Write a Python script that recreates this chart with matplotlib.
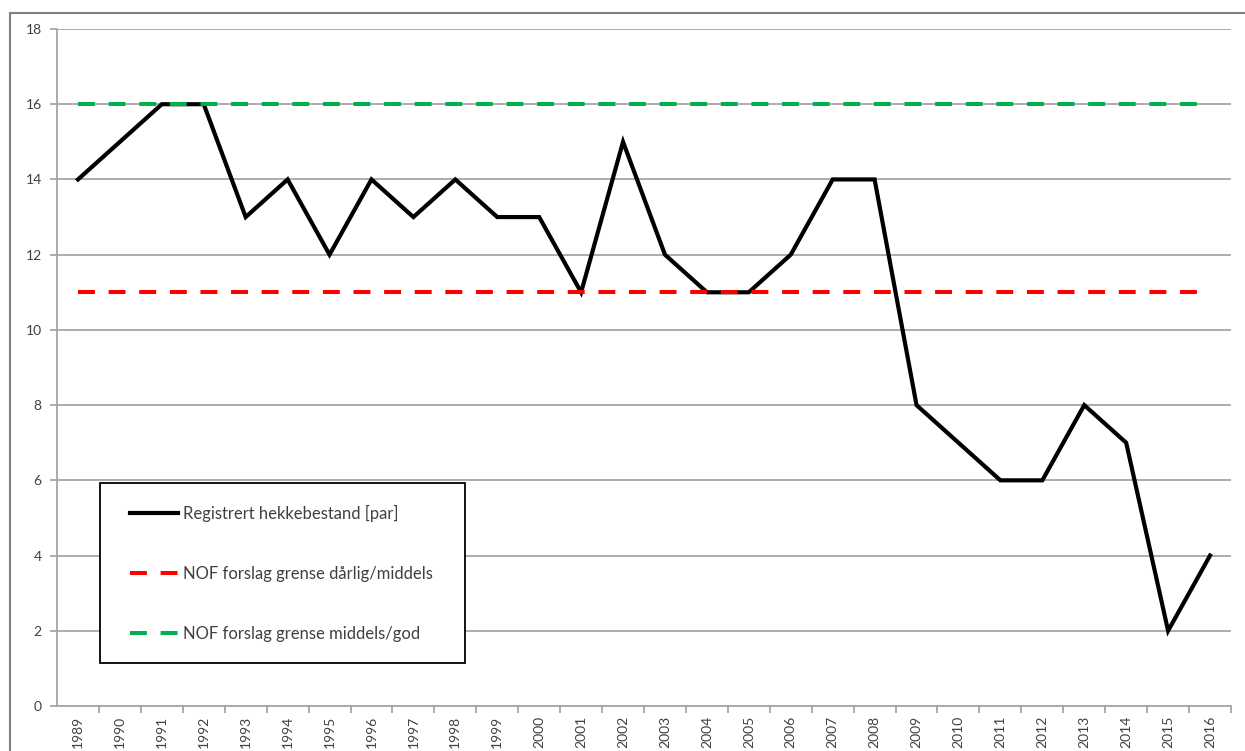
import matplotlib
matplotlib.use("Agg")
import matplotlib.pyplot as plt
from matplotlib.patches import Rectangle

years = [str(y) for y in range(1989, 2017)]
hekkebestand = [14, 15, 16, 16, 13, 14, 12, 14, 13, 14, 13, 13, 11, 15, 12, 11,
                11, 12, 14, 14, 8, 7, 6, 6, 8, 7, 2, 4]
grense_darlig_middels = [11] * len(years)
grense_middels_god = [16] * len(years)

labels = ["Registrert hekkebestand [par]",
          "NOF forslag grense dårlig/middels",
          "NOF forslag grense middels/god"]
yticks = list(range(0, 19, 2))

plt.rcParams['font.family'] = ['Lato', 'DejaVu Sans']

W, H = 1245, 751
fig = plt.figure(figsize=(W / 100, H / 100), dpi=100)
fig.patches.append(Rectangle((10 / W, -0.2), 1.5, 1.2 - 13 / H,
                             transform=fig.transFigure, fill=False,
                             edgecolor='#808080', lw=1.5, zorder=0))
AX_L, AX_R, AX_T, AX_B = 57, 1231, 29, 706
ax = fig.add_axes([AX_L / W, 1 - AX_B / H, (AX_R - AX_L) / W, (AX_B - AX_T) / H])


def px2ax(px, py):
    return (px - AX_L) / (AX_R - AX_L), (AX_B - py) / (AX_B - AX_T)


x = list(range(len(years)))
ax.plot(x, hekkebestand, color='black', lw=3, solid_joinstyle='miter', zorder=3,
        label=labels[0])
ax.plot(x, grense_darlig_middels, color='#FF0000', lw=2.9, linestyle=(0, (4.2, 3.4)),
        dash_capstyle='butt', zorder=4, label=labels[1])
ax.plot(x, grense_middels_god, color='#00B050', lw=2.9, linestyle=(0, (4.2, 3.4)),
        dash_capstyle='butt', zorder=4, label=labels[2])

ax.set_xlim(-0.5, len(years) - 0.5)
ax.set_ylim(0, 18)
ax.set_yticks(yticks)
ax.set_yticklabels([str(v) for v in yticks])
ax.yaxis.grid(True, color='#A6A6A6', lw=1.3)
ax.set_axisbelow(True)

ax.set_xticks(x)
ax.set_xticklabels(years, rotation=90, va='top')
ax.set_xticks([i - 0.5 for i in range(1, len(years) + 1)], minor=True)
ax.tick_params(axis='x', which='major', length=0, pad=7, labelsize=10, labelcolor='#404040')
ax.tick_params(axis='x', which='minor', length=5, color='#A6A6A6', width=1.3)
ax.tick_params(axis='y', length=5, color='#A6A6A6', width=1.3, labelsize=10,
               labelcolor='#404040', pad=6)

for s in ['top', 'right']:
    ax.spines[s].set_visible(False)
for s in ['left', 'bottom']:
    ax.spines[s].set_color('#A6A6A6')
    ax.spines[s].set_linewidth(1.3)

# legend frame
x0, y0 = px2ax(100, 663)
x1, y1 = px2ax(465, 483)
ax.add_patch(Rectangle((x0, y0), x1 - x0, y1 - y0, transform=ax.transAxes,
                       facecolor='white', edgecolor='black', lw=1.3, zorder=9,
                       clip_on=False))

leg = ax.legend(loc='upper left', bbox_to_anchor=px2ax(130, 505),
                frameon=False, fontsize=12,
                handlelength=2.9, handletextpad=0.3, labelspacing=2.63,
                borderpad=0, borderaxespad=0)
for t in leg.get_texts():
    t.set_color('#404040')
leg.set_zorder(10)

fig.savefig("out.png", dpi=100)
